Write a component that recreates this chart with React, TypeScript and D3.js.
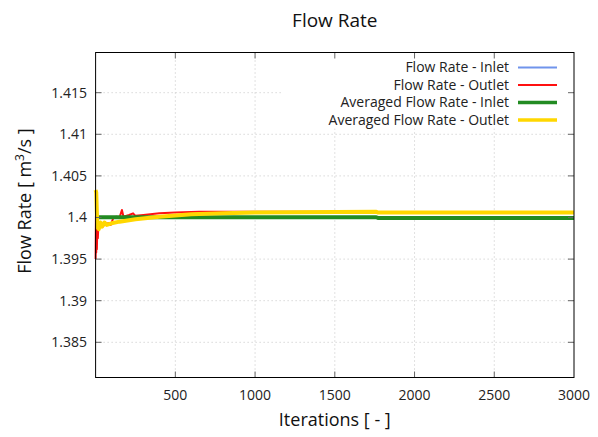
import React from "react"
import * as d3 from "d3"

// tick values
const iterTicks = [500, 1000, 1500, 2000, 2500, 3000]
const rateTicks = [1.385, 1.39, 1.395, 1.4, 1.405, 1.41, 1.415]

// Flow Rate - Inlet (sits under the averaged inlet curve)
const inletIter = [20, 1760, 3000]
const inletRate = [1.4, 1.4, 1.4]

// Flow Rate - Outlet
const outletIter = [0, 2, 4, 6, 8, 11, 14, 18, 30, 45, 60, 80, 95, 110, 130, 150, 165, 175, 210, 235, 250, 300, 400, 500, 650, 1000, 1760, 1770, 3000]
const outletRate = [1.395, 1.4002, 1.3958, 1.3995, 1.3962, 1.399, 1.3975, 1.3993, 1.3991, 1.3989, 1.3992, 1.3993, 1.3991, 1.3999, 1.4001, 1.4, 1.4009, 1.4001, 1.4003, 1.4005, 1.4002, 1.4003, 1.4005, 1.4006, 1.4007, 1.4007, 1.4007, 1.4006, 1.4006]

// Averaged Flow Rate - Inlet
const avgInletIter = [20, 1760, 1770, 3000]
const avgInletRate = [1.40003, 1.40003, 1.39995, 1.39995]

// Averaged Flow Rate - Outlet
const avgOutletIter = [0, 4, 8, 12, 20, 30, 40, 55, 70, 100, 150, 250, 400, 600, 800, 1000, 1760, 1770, 3000]
const avgOutletRate = [1.4033, 1.403, 1.4005, 1.3988, 1.3986, 1.3994, 1.3989, 1.3994, 1.3991, 1.3993, 1.3995, 1.3998, 1.4001, 1.4004, 1.4005, 1.4006, 1.4007, 1.4006, 1.4006]

const seriesNames = ["Flow Rate - Inlet", "Flow Rate - Outlet", "Averaged Flow Rate - Inlet", "Averaged Flow Rate - Outlet"]
const seriesColors = ["#7094ec", "#ff1010", "#228b22", "#ffd700"]
const seriesWidths = [2, 2, 4, 4]

const W = 598
const H = 437
const left = 95.6
const right = 574
const top = 52.5
const bottom = 377.5
const font = "'Open Sans', 'DejaVu Sans', sans-serif"

const App = () => {
  const x = d3.scaleLinear().domain([0, 3000]).range([left, right])
  const y = d3.scaleLinear().domain([1.38077, 1.41983]).range([bottom, top])

  const line = d3
    .line<[number, number]>()
    .x(d => x(d[0]))
    .y(d => y(d[1]))

  const zip = (a: number[], b: number[]) => a.map((v, i) => [v, b[i]] as [number, number])
  const series = [
    zip(inletIter, inletRate),
    zip(outletIter, outletRate),
    zip(avgInletIter, avgInletRate),
    zip(avgOutletIter, avgOutletRate),
  ]

  const legendX = 509
  const legendY0 = 67.5
  const legendStep = 17.5

  return (
    <svg width={W} height={H} style={{ position: "absolute", left: 0, top: 0, background: "#fff" }} fontFamily={font}>
      <rect width={W} height={H} fill="#fff" />
      <text x={(left + right) / 2} y={27} textAnchor="middle" fontSize={19} fill="#111">Flow Rate</text>

      {/* grid */}
      <g stroke="#c4c4c4" strokeWidth={1} strokeDasharray="1,3">
        {iterTicks.slice(0, -1).map(t => (
          <line key={"gx" + t} x1={x(t)} x2={x(t)} y1={top} y2={bottom} />
        ))}
        {rateTicks.map(t => (
          <line key={"gy" + t} x1={left} x2={right} y1={y(t)} y2={y(t)} />
        ))}
      </g>

      {/* data */}
      <g fill="none" strokeLinejoin="round" strokeLinecap="butt">
        {series.map((s, i) => (
          <path key={i} d={line(s) || ""} stroke={seriesColors[i]} strokeWidth={seriesWidths[i]} />
        ))}
      </g>

      {/* opaque key */}
      <rect x={283} y={top} width={right - 283} height={76} fill="#fff" />
      <g fontSize={14} fill="#222">
        {seriesNames.map((n, i) => (
          <g key={n}>
            <text x={legendX} y={legendY0 + i * legendStep} dy="0.35em" textAnchor="end">{n}</text>
            <line x1={518} x2={557} y1={legendY0 + i * legendStep} y2={legendY0 + i * legendStep} stroke={seriesColors[i]} strokeWidth={seriesWidths[i] === 4 ? 3.5 : 2} />
          </g>
        ))}
      </g>

      {/* ticks */}
      <g stroke="#666" strokeWidth={1}>
        {iterTicks.slice(0, -1).map(t => (
          <g key={"tx" + t}>
            <line x1={x(t)} x2={x(t)} y1={bottom} y2={bottom - 6} />
            <line x1={x(t)} x2={x(t)} y1={top} y2={top + 6} />
          </g>
        ))}
        {rateTicks.map(t => (
          <g key={"ty" + t}>
            <line x1={left} x2={left + 6} y1={y(t)} y2={y(t)} />
            <line x1={right} x2={right - 6} y1={y(t)} y2={y(t)} />
          </g>
        ))}
      </g>
      <rect x={left} y={top} width={right - left} height={bottom - top} fill="none" stroke="#000" strokeWidth={1} />

      {/* tick labels */}
      <g fontSize={14} fill="#222">
        {iterTicks.map(t => (
          <text key={"lx" + t} x={x(t)} y={400} textAnchor="middle">{t}</text>
        ))}
        {rateTicks.map(t => (
          <text key={"ly" + t} x={87} y={y(t)} dy="0.35em" textAnchor="end">{d3.format("")(+t.toFixed(3))}</text>
        ))}
      </g>

      {/* axis titles */}
      <text x={(left + right) / 2} y={426} textAnchor="middle" fontSize={18} fill="#111">Iterations [ - ]</text>
      <text transform={`translate(31,${(top + bottom) / 2 - 14}) rotate(-90)`} textAnchor="middle" fontSize={18} fill="#111">
        Flow Rate [ m<tspan dy={-7} fontSize={12}>3</tspan><tspan dy={7}>/s ]</tspan>
      </text>
    </svg>
  )
}

export default App
